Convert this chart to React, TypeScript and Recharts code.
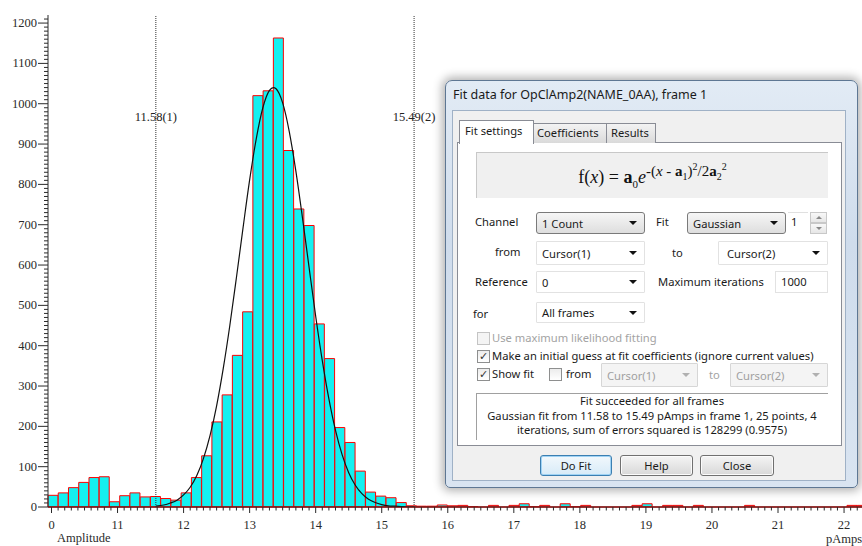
import React from 'react';
import { ComposedChart, Bar, Line, XAxis, YAxis, ReferenceLine } from 'recharts';

// ---------- data ----------
const binStart = 9.947;
const binWidth = 0.1551;
const binCounts = [
  29, 35, 48, 61, 73, 75, 13, 28, 35, 25,
  26, 21, 17, 35, 73, 127, 211, 278, 376, 484,
  1020, 1032, 1163, 884, 739, 698, 454, 368, 197, 160,
  89, 37, 27, 23, 11, 3, 2, 2, 5, 3,
  4, 1, 0, 4, 0, 4, 8, 1, 4, 0,
  8, 1, 4, 0, 0, 0, 0, 4, 8, 0,
  4, 4, 0, 4, 0, 0, 0, 0, 4, 0,
  0, 0, 0, 0, 0, 0, 0, 0, 4, 4,
];
const fitX = [11.58, 11.7, 11.8, 11.9, 12.0, 12.1, 12.2, 12.3, 12.4, 12.5, 12.6, 12.7, 12.8, 12.9, 13.0, 13.1, 13.2, 13.3, 13.36, 13.4, 13.5, 13.6, 13.7, 13.8, 13.9, 14.0, 14.1, 14.2, 14.3, 14.4, 14.5, 14.6, 14.7, 14.8, 14.9, 15.0, 15.1, 15.2, 15.3, 15.4, 15.49];
const fitY = [2, 5, 10, 17, 30, 49, 78, 120, 177, 251, 343, 450, 569, 692, 811, 913, 990, 1033, 1040, 1037, 1002, 931, 833, 717, 594, 473, 363, 268, 190, 130, 85, 54, 33, 19, 11, 6, 3, 2, 1, 0, 0];
const cursorValues = [11.58, 15.49];
const cursorLabels = ['11.58(1)', '15.49(2)'];
const xMajorTicks = [10, 11, 12, 13, 14, 15, 16, 17, 18, 19, 20, 21, 22];
const xTickLabels = ['0', '11', '12', '13', '14', '15', '16', '17', '18', '19', '20', '21', '22'];
const yMajorTicks = [0, 100, 200, 300, 400, 500, 600, 700, 800, 900, 1000, 1100, 1200];
const yTickLabels = ['0', '100', '200', '300', '400', '500', '600', '700', '800', '900', '1000', '1100', '1200'];
const yMax = 1220;

const binData = binCounts.map((c, i) => ({ bin: i, count: c }));
const fitData = fitX.map((x, i) => ({ x, y: fitY[i] }));
const xDomainMax = binStart + binCounts.length * binWidth;
const xMinorTicks = Array.from({ length: 124 }, (_, i) => Math.round((10 + i * 0.1) * 10) / 10).filter((v) => v <= xDomainMax);
const yMinorTicks = Array.from({ length: 122 }, (_, i) => i * 10);

const AXIS_FONT = '"Liberation Serif", "Times New Roman", serif';
const UI_FONT = '"Noto Sans", "Open Sans", sans-serif';
const AXIS_COLOR = '#2a2a2a';

const X_TICK_SIZE = 6;
const X_TICK_MARGIN = 0;
const Y_TICK_SIZE = 9;
const Y_TICK_MARGIN = 2;

const XTick = (props: any) => {
  const { x, y, payload } = props;
  const v = payload.value;
  const axisY = y - X_TICK_SIZE - X_TICK_MARGIN;
  const idx = xMajorTicks.findIndex((t) => Math.abs(t - v) < 1e-6);
  const major = idx >= 0;
  return (
    <g>
      <line x1={x} x2={x} y1={axisY} y2={axisY + (major ? 6 : 3.5)} stroke={AXIS_COLOR} strokeWidth={1} />
      {major && (
        <text x={x} y={axisY + 22} textAnchor="middle" fontFamily={AXIS_FONT} fontSize={12.5} fill={AXIS_COLOR}>
          {xTickLabels[idx]}
        </text>
      )}
    </g>
  );
};

const YTick = (props: any) => {
  const { x, y, payload } = props;
  const v = payload.value;
  const axisX = x + Y_TICK_SIZE + Y_TICK_MARGIN;
  const idx = yMajorTicks.findIndex((t) => Math.abs(t - v) < 1e-6);
  const major = idx >= 0;
  return (
    <g>
      <line x1={axisX - (major ? 10 : 4)} x2={axisX} y1={y} y2={y} stroke={AXIS_COLOR} strokeWidth={1} />
      {major && (
        <text x={axisX - 11} y={y + 4} textAnchor="end" fontFamily={AXIS_FONT} fontSize={12.5} fill={AXIS_COLOR}>
          {yTickLabels[idx]}
        </text>
      )}
    </g>
  );
};

const cursorLabel = (text: string) => (props: any) => {
  const vb = props.viewBox || {};
  return (
    <text x={vb.x} y={(vb.y || 0) + 106} textAnchor="middle" fontFamily={AXIS_FONT} fontSize={12.5} fill="#222">
      {text}
    </text>
  );
};

// ---------- dialog helpers ----------
const abs = (l: number, t: number, w: number, h: number, extra: any = {}): React.CSSProperties => ({
  position: 'absolute', left: l, top: t, width: w, height: h, boxSizing: 'border-box', ...extra,
});

const Txt = ({ x, cy, children, color = '#1a1a1a', size = 11.2 }: any) => (
  <div style={{ position: 'absolute', left: x, top: cy - 8, height: 16, lineHeight: '16px', fontSize: size, color, whiteSpace: 'nowrap', fontFamily: UI_FONT }}>
    {children}
  </div>
);

const Arrow = ({ color = '#111' }: any) => (
  <div style={{ width: 0, height: 0, borderLeft: '4px solid transparent', borderRight: '4px solid transparent', borderTop: `4px solid ${color}` }} />
);

const Combo = ({ x, y, w, h, text, kind = 'flat' }: any) => {
  const isBtn = kind === 'button';
  const dis = kind === 'disabled';
  const style: any = abs(x, y, w, h, {
    border: isBtn ? '1px solid #7a7a7a' : `1px solid ${dis ? '#d6d6d6' : '#e2e2e2'}`,
    borderRadius: isBtn ? 3 : 1,
    background: isBtn ? 'linear-gradient(#f6f6f6, #dedede)' : dis ? '#f4f4f4' : '#ffffff',
    display: 'flex', alignItems: 'center', justifyContent: 'space-between',
    padding: '0 7px 0 5px', fontFamily: UI_FONT, fontSize: 11.2, color: dis ? '#a0a0a0' : '#1a1a1a',
  });
  return (
    <div style={style}>
      <span>{text}</span>
      <Arrow color={dis ? '#b0b0b0' : '#111'} />
    </div>
  );
};

const Check = ({ x, y, checked, disabled }: any) => (
  <div style={abs(x, y, 13, 13, {
    border: `1px solid ${disabled ? '#c4c4c4' : '#8e8f8f'}`, background: disabled ? '#f4f4f4' : 'linear-gradient(#ececec, #ffffff)',
    fontSize: 11, lineHeight: '11px', textAlign: 'center', color: '#333', fontFamily: '"DejaVu Sans", sans-serif',
  })}>
    {checked ? '\u2713' : ''}
  </div>
);

const Btn = ({ x, y, w, h, text, focus }: any) => (
  <div style={abs(x, y, w, h, {
    border: focus ? '1px solid #3c7fb1' : '1px solid #707070', borderRadius: 3,
    background: focus ? 'linear-gradient(#f2f8fc, #d7ebf8)' : 'linear-gradient(#f4f4f4, #d8d8d8)',
    boxShadow: focus ? 'inset 0 0 0 1px #9fd3f5' : 'inset 0 0 0 1px #fbfbfb',
    display: 'flex', alignItems: 'center', justifyContent: 'center', fontFamily: UI_FONT, fontSize: 11.2, color: '#1a1a1a',
  })}>
    {text}
  </div>
);

const Dialog = () => (
  <>
    {/* frame */}
    <div style={abs(445, 80, 413, 408, {
      border: '1px solid #5e7793', borderRadius: '7px 7px 5px 5px',
      background: 'linear-gradient(#e2ebf5, #cfdcec 40%, #d9e4f1)',
      boxShadow: '0 0 10px 3px rgba(0,0,0,0.30)',
    })} />
    <Txt x={453} cy={95} size={12.5}>Fit data for OpClAmp2(NAME_0AA), frame 1</Txt>
    {/* client */}
    <div style={abs(452, 110, 394, 371, { background: '#f0f0f0', border: '1px solid #9fb1c6' })} />
    {/* tab panel */}
    <div style={abs(457, 142, 385, 304, { background: '#ffffff', border: '1px solid #898c95' })} />
    <div style={abs(533, 123, 74, 20, { background: 'linear-gradient(#f3f3f3, #dadada)', border: '1px solid #898c95', borderBottom: 'none' })} />
    <div style={abs(606, 123, 50, 20, { background: 'linear-gradient(#f3f3f3, #dadada)', border: '1px solid #898c95', borderBottom: 'none' })} />
    <div style={abs(459, 120, 75, 24, { background: '#ffffff', border: '1px solid #898c95', borderBottom: 'none' })} />
    <Txt x={465} cy={131}>Fit settings</Txt>
    <Txt x={537} cy={133}>Coefficients</Txt>
    <Txt x={611} cy={133}>Results</Txt>
    {/* formula */}
    <div style={abs(476, 152, 352, 46, {
      background: '#f0f0f0', borderTop: '1px solid #c8c8c8', borderLeft: '1px solid #c8c8c8',
      display: 'flex', alignItems: 'center', justifyContent: 'center', fontFamily: AXIS_FONT, fontSize: 18, color: '#111',
    })}>
      <span style={{ marginLeft: 0 }}>
        f(<i>x</i>) = <b>a</b><sub style={{ fontSize: 11 }}>0</sub><i>e</i>
        <sup style={{ fontSize: 15 }}>-(<i>x</i> - <b>a</b><sub style={{ fontSize: 10 }}>1</sub>)<sup style={{ fontSize: 10 }}>2</sup>/2<b>a</b><sub style={{ fontSize: 10 }}>2</sub><sup style={{ fontSize: 10 }}>2</sup></sup>
      </span>
    </div>
    {/* rows */}
    <Txt x={475} cy={222}>Channel</Txt>
    <Combo x={536} y={212} w={109} h={22} text="1 Count" kind="button" />
    <Txt x={656} cy={222}>Fit</Txt>
    <Combo x={687} y={212} w={99} h={22} text="Gaussian" kind="button" />
    <div style={abs(788, 212, 20, 22, { background: '#fff', borderTop: '1px solid #e0e0e0' })} />
    <Txt x={791} cy={222}>1</Txt>
    <div style={abs(810, 212, 17, 11, { border: '1px solid #c8c8c8', background: 'linear-gradient(#f8f8f8,#e6e6e6)', display: 'flex', alignItems: 'center', justifyContent: 'center' })}>
      <div style={{ width: 0, height: 0, borderLeft: '3px solid transparent', borderRight: '3px solid transparent', borderBottom: '3px solid #888' }} />
    </div>
    <div style={abs(810, 223, 17, 11, { border: '1px solid #c8c8c8', background: 'linear-gradient(#f8f8f8,#e6e6e6)', display: 'flex', alignItems: 'center', justifyContent: 'center' })}>
      <div style={{ width: 0, height: 0, borderLeft: '3px solid transparent', borderRight: '3px solid transparent', borderTop: '3px solid #888' }} />
    </div>

    <Txt x={495} cy={252}>from</Txt>
    <Combo x={536} y={241} w={109} h={24} text="Cursor(1)" />
    <Txt x={672} cy={253}>to</Txt>
    <Combo x={718} y={241} w={110} h={24} text={'\u00a0Cursor(2)'} />

    <Txt x={475} cy={282}>Reference</Txt>
    <Combo x={536} y={271} w={109} h={22} text="0" />
    <Txt x={658} cy={282}>Maximum iterations</Txt>
    <div style={abs(775, 271, 53, 22, { background: '#fff', border: '1px solid #e2e2e2' })} />
    <Txt x={781} cy={282}>1000</Txt>

    <Txt x={473} cy={314}>for</Txt>
    <Combo x={536} y={302} w={109} h={21} text="All frames" />

    <Check x={477} y={332} disabled />
    <Txt x={492} cy={338} color="#a3a3a3">Use maximum likelihood fitting</Txt>
    <Check x={477} y={350} checked />
    <Txt x={492} cy={356}>Make an initial guess at fit coefficients (ignore current values)</Txt>
    <Check x={477} y={368} checked />
    <Txt x={492} cy={374}>Show fit</Txt>
    <Check x={549} y={368} />
    <Txt x={566} cy={374}>from</Txt>
    <Combo x={601} y={363} w={97} h={24} text="Cursor(1)" kind="disabled" />
    <Txt x={709} cy={375} color="#a3a3a3">to</Txt>
    <Combo x={730} y={363} w={98} h={24} text="Cursor(2)" kind="disabled" />

    {/* status */}
    <div style={abs(476, 393, 352, 47, { background: '#fff', borderTop: '1px solid #a0a0a0', borderLeft: '1px solid #a0a0a0' })} />
    <div style={{ position: 'absolute', left: 476, top: 394, width: 352, textAlign: 'center', fontFamily: UI_FONT, fontSize: 11.2, lineHeight: '14.5px', color: '#1a1a1a' }}>
      <div>Fit succeeded for all frames</div>
      <div style={{ whiteSpace: 'nowrap', marginLeft: -20, marginRight: -20 }}>Gaussian fit from 11.58 to 15.49 pAmps in frame 1, 25 points, 4</div>
      <div>iterations, sum of errors squared is 128299 (0.9575)</div>
    </div>

    <Btn x={540} y={455} w={72} h={21} text="Do Fit" focus />
    <Btn x={620} y={455} w={73} h={21} text="Help" />
    <Btn x={700} y={455} w={74} h={21} text="Close" />
  </>
);

export default function App() {
  return (
    <div style={{ position: 'absolute', left: 0, top: 0, width: 862, height: 546, overflow: 'hidden', background: '#ffffff' }}>
      <div style={{ position: 'absolute', left: 0, top: 0 }}>
        <ComposedChart width={880} height={546} data={binData} margin={{ top: 15, right: 12.5, bottom: 0, left: 0 }} barCategoryGap={0} barGap={0}>
          <XAxis xAxisId="bins" dataKey="bin" type="category" orientation="top" height={0} hide />
          <XAxis
            xAxisId="num" dataKey="x" type="number" domain={[binStart, xDomainMax]} allowDataOverflow
            ticks={xMinorTicks} interval={0} tick={<XTick />} tickLine={false}
            tickSize={X_TICK_SIZE} tickMargin={X_TICK_MARGIN} height={39} axisLine={{ stroke: AXIS_COLOR }}
          />
          <YAxis
            yAxisId="y" type="number" domain={[0, yMax]} allowDataOverflow
            ticks={yMinorTicks} interval={0} tick={<YTick />} tickLine={false}
            tickSize={Y_TICK_SIZE} tickMargin={Y_TICK_MARGIN} width={48} axisLine={{ stroke: AXIS_COLOR }}
          />
          <Bar xAxisId="bins" yAxisId="y" dataKey="count" fill="#14f0f0" stroke="#ff0000" strokeWidth={1} isAnimationActive={false} />
          <ReferenceLine xAxisId="num" yAxisId="y" y={0} stroke="#ff0000" strokeWidth={1.5} />
          <Line xAxisId="num" yAxisId="y" data={fitData} dataKey="y" type="monotone" stroke="#111111" strokeWidth={1.2} dot={false} isAnimationActive={false} />
          {cursorValues.map((v, i) => (
            <ReferenceLine key={i} xAxisId="num" yAxisId="y" x={v} stroke="#333" strokeDasharray="1 1" strokeWidth={1} label={cursorLabel(cursorLabels[i])} />
          ))}
        </ComposedChart>
      </div>
      <div style={{ position: 'absolute', left: 57, top: 531, fontFamily: AXIS_FONT, fontSize: 12.5, color: AXIS_COLOR, lineHeight: '14px' }}>Amplitude</div>
      <div style={{ position: 'absolute', left: 826, top: 533, fontFamily: AXIS_FONT, fontSize: 12.5, color: AXIS_COLOR, lineHeight: '13px', whiteSpace: 'nowrap' }}>pAmps</div>
      <Dialog />
    </div>
  );
}
